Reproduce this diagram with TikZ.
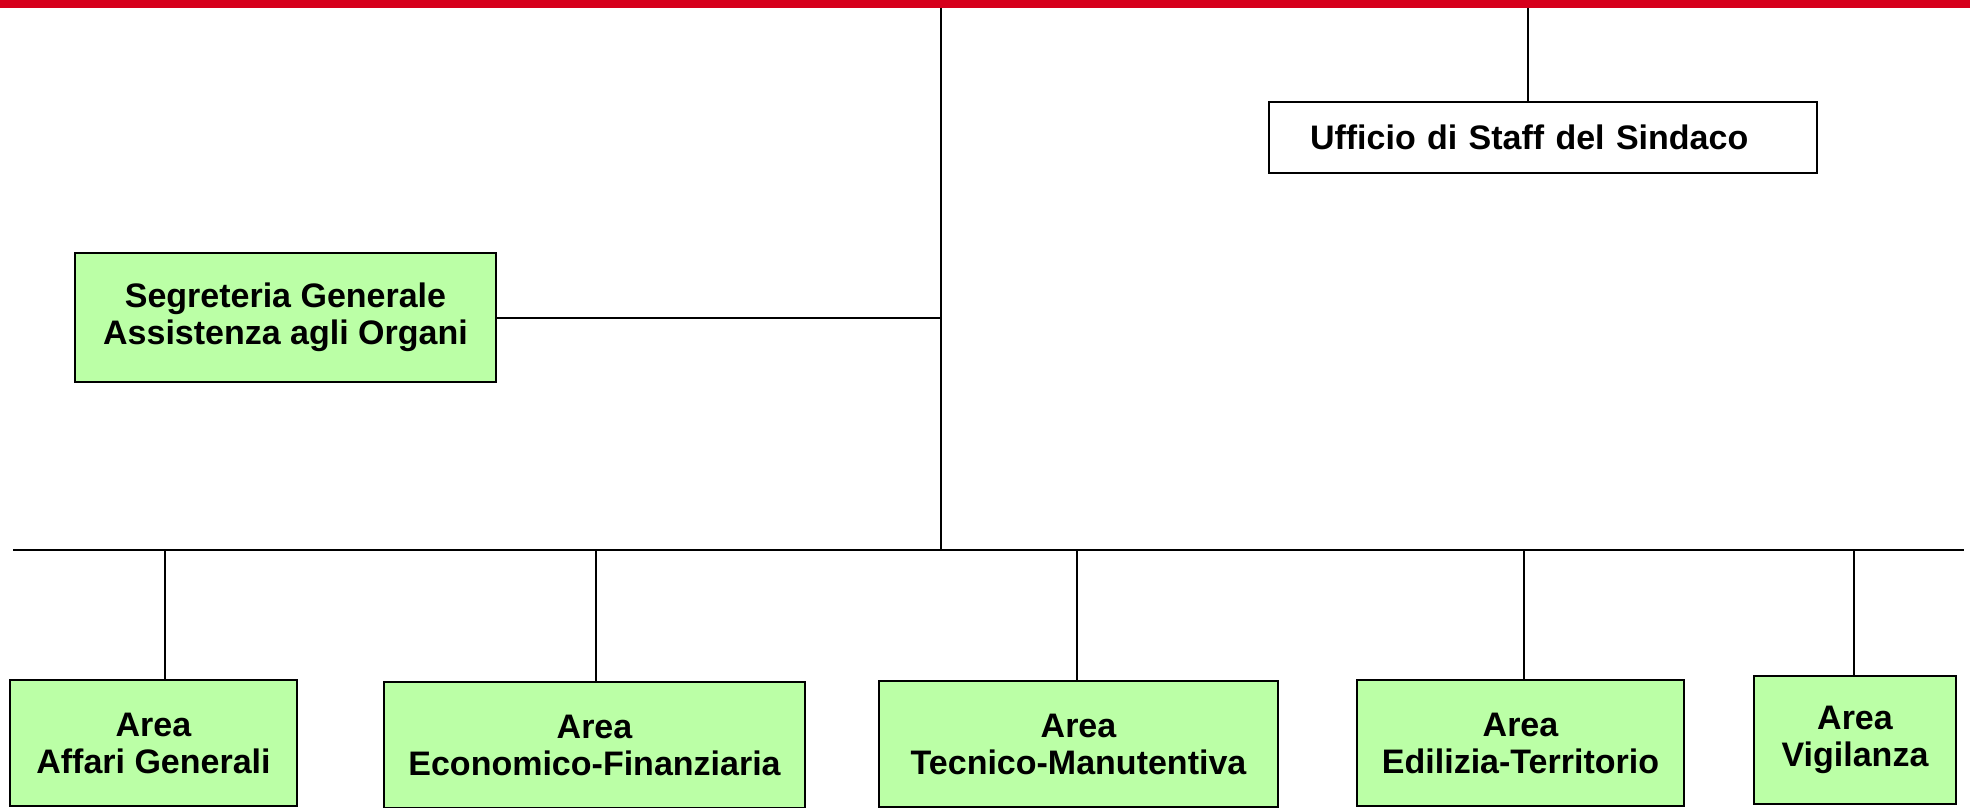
\documentclass[tikz,border=0pt]{standalone}
\usepackage{fontspec}
\setmainfont{Liberation Sans}
\definecolor{areagreen}{RGB}{187,255,166}
\definecolor{barred}{RGB}{214,0,28}
\begin{document}
\begin{tikzpicture}
[x=1pt,y=-1pt,line width=2pt,
every node/.style={draw,rectangle,font=\fontsize{34}{37}\selectfont\bfseries,align=center,inner sep=0pt},
areabox/.style={fill=areagreen,minimum height=126pt},
staffbox/.style={fill=white,text width=466pt,align=left,inner xsep=41pt,minimum height=71pt}]
\useasboundingbox (0,0) rectangle (1970,808);
\fill[barred] (0,0) rectangle (1970,8);
\coordinate (sindaco) at (941,8);
\coordinate (staffdrop) at (1528,8);
\coordinate (busL) at (13,550);
\coordinate (busR) at (1964,550);
\node[staffbox] (staff) at (1543,137.5) {Ufficio di Staff del Sindaco};
\node[areabox,minimum width=421pt,minimum height=129pt] (segr) at (285.5,317.5) {Segreteria Generale\\Assistenza agli Organi};
\node[areabox,minimum width=287pt] (aff) at (153.5,743) {Area\\Affari Generali};
\node[areabox,minimum width=421pt] (eco) at (594.5,745) {Area\\Economico-Finanziaria};
\node[areabox,minimum width=399pt] (tec) at (1078.5,744) {Area\\Tecnico-Manutentiva};
\node[areabox,minimum width=327pt] (edi) at (1520.5,743) {Area\\Edilizia-Territorio};
\node[areabox,minimum width=202pt,minimum height=128pt] (vig) at (1855,740) {Area\\Vigilanza};
\draw (sindaco) -- (sindaco |- busL);
\draw (busL) -- (busR);
\draw (staffdrop) -- (staffdrop |- staff.north);
\draw (segr) -- (segr -| sindaco);
\foreach \n/\x in {aff/165,eco/596,tec/1077,edi/1524,vig/1854}
  \draw (\n.north -| \x,0) -- (\x,550);
\end{tikzpicture}
\end{document}
